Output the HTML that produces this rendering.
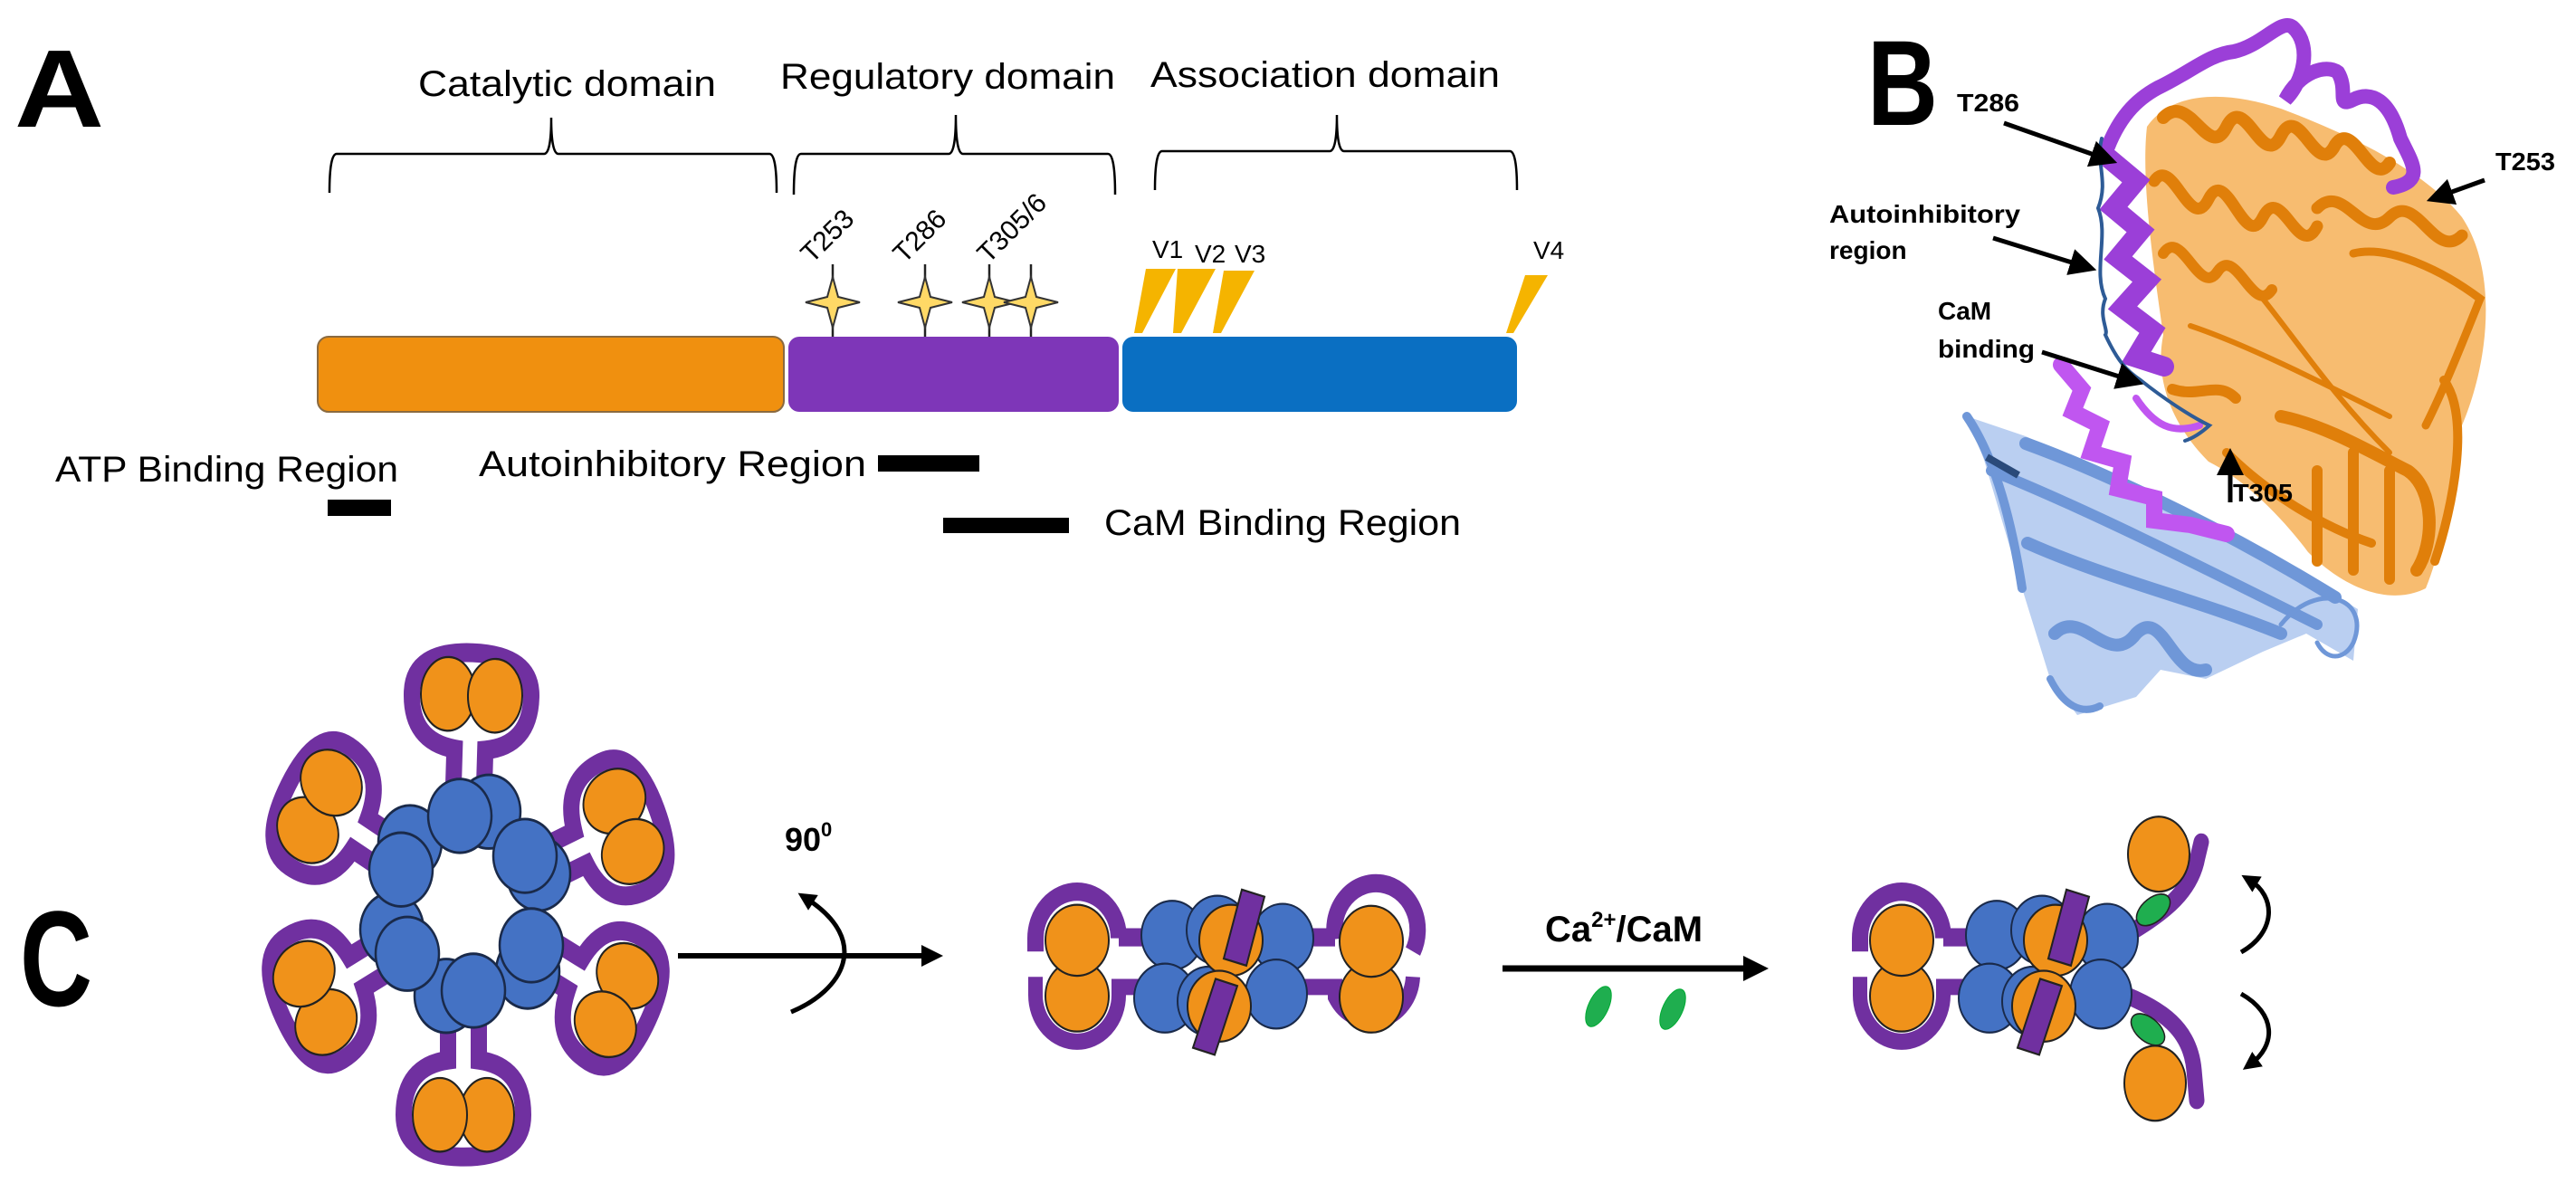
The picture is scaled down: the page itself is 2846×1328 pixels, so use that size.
<!DOCTYPE html>
<html><head><meta charset="utf-8"><style>
html,body{margin:0;padding:0;background:#fff}
svg{display:block}
text{font-family:"Liberation Sans",sans-serif}
</style></head><body>
<svg width="2846" height="1328" viewBox="0 0 2846 1328" xmlns="http://www.w3.org/2000/svg">
<defs>
<marker id="ah" markerWidth="6" markerHeight="6" refX="3" refY="3" orient="auto" markerUnits="strokeWidth"><path d="M0,0 L6,3 L0,6 Z" fill="#000"/></marker>
<marker id="ah2" markerWidth="4" markerHeight="4" refX="2" refY="2" orient="auto" markerUnits="strokeWidth"><path d="M0,0 L4,2 L0,4 Z" fill="#000"/></marker>
<g id="star"><line x1="0" y1="-42" x2="0" y2="38" stroke="#222" stroke-width="2.5"/><path d="M0,-28 L6,-6 L30,0 L6,6 L0,28 L-6,6 L-30,0 L-6,-6 Z" fill="#ffd966" stroke="#333" stroke-width="2"/></g>
<g id="unit">
<path d="M-17,88 L-17,52 Q-66,46 -66,0 Q-66,-40 0,-40 Q66,-40 66,0 Q66,46 17,52 L17,88" fill="none" stroke="#7030a0" stroke-width="18"/>
<ellipse cx="-26" cy="0" rx="30" ry="35" fill="#f0921a" stroke="#222" stroke-width="2"/>
<ellipse cx="26" cy="0" rx="30" ry="35" fill="#f0921a" stroke="#222" stroke-width="2"/>
</g>
<g id="leftC">
<path d="M1144,1053 L1144,1040 A46 46 0 0 1 1236,1040 L1236,1039 L1275,1039" fill="none" stroke="#7030a0" stroke-width="18"/>
<path d="M1144,1078 L1144,1096 A46 46 0 0 0 1236,1096 L1236,1088 L1275,1088" fill="none" stroke="#7030a0" stroke-width="16"/>
<circle cx="1190" cy="1097" r="35" fill="#f0921a" stroke="#222" stroke-width="2"/>
<circle cx="1190" cy="1042" r="35" fill="#f0921a" stroke="#222" stroke-width="2"/>
</g>
<g id="core">
<circle cx="1295" cy="1037" r="34" fill="#4472c4" stroke="#1a2a4a" stroke-width="2"/>
<circle cx="1287" cy="1099" r="34" fill="#4472c4" stroke="#1a2a4a" stroke-width="2"/>
<circle cx="1417" cy="1040" r="34" fill="#4472c4" stroke="#1a2a4a" stroke-width="2"/>
<circle cx="1410" cy="1095" r="34" fill="#4472c4" stroke="#1a2a4a" stroke-width="2"/>
<circle cx="1345" cy="1032" r="34" fill="#4472c4" stroke="#1a2a4a" stroke-width="2"/>
<circle cx="1335" cy="1102" r="34" fill="#4472c4" stroke="#1a2a4a" stroke-width="2"/>
<circle cx="1360" cy="1042" r="35" fill="#f0921a" stroke="#222" stroke-width="2"/>
<circle cx="1347" cy="1107" r="35" fill="#f0921a" stroke="#222" stroke-width="2"/>
<polygon points="1372,992 1397,999 1377,1067 1352,1060" fill="#7030a0" stroke="#222" stroke-width="2"/>
<polygon points="1343,1080 1367,1087 1342,1155 1318,1148" fill="#7030a0" stroke="#222" stroke-width="2"/>
</g>
</defs>

<!-- PANEL A -->
<text x="16" y="140" font-size="122" font-weight="bold" textLength="99" lengthAdjust="spacingAndGlyphs">A</text>
<text x="462" y="106" font-size="40" textLength="329" lengthAdjust="spacingAndGlyphs">Catalytic domain</text>
<text x="862" y="98" font-size="40" textLength="370" lengthAdjust="spacingAndGlyphs">Regulatory domain</text>
<text x="1271" y="96" font-size="40" textLength="386" lengthAdjust="spacingAndGlyphs">Association domain</text>
<g fill="none" stroke="#000" stroke-width="2.5">
<path d="M364,213 Q364,170 372,170 L601,170 Q609,170 609,130 Q609,170 617,170 L850,170 Q858,170 858,213"/>
<path d="M877,215 Q877,170 885,170 L1048,170 Q1056,170 1056,127 Q1056,170 1064,170 L1224,170 Q1232,170 1232,215"/>
<path d="M1276,210 Q1276,167 1284,167 L1469,167 Q1477,167 1477,127 Q1477,167 1485,167 L1668,167 Q1676,167 1676,210"/>
</g>
<rect x="351" y="372" width="515" height="83" rx="12" fill="#f0900f" stroke="#8a6a40" stroke-width="2"/>
<rect x="871" y="372" width="365" height="83" rx="12" fill="#7e36b8"/>
<rect x="1240" y="372" width="436" height="83" rx="12" fill="#0a6fc2"/>
<use href="#star" x="920" y="334"/>
<use href="#star" x="1022" y="334"/>
<use href="#star" x="1093" y="334"/>
<use href="#star" x="1139" y="334"/>
<text font-size="30" transform="translate(897,292) rotate(-45)">T253</text>
<text font-size="30" transform="translate(999,292) rotate(-45)">T286</text>
<text font-size="30" transform="translate(1092,292) rotate(-45)">T305/6</text>
<g fill="#f5b400">
<polygon points="1266,297 1299,297 1262,368 1253,368"/>
<polygon points="1301,297 1343,297 1305,368 1296,368"/>
<polygon points="1352,299 1386,299 1349,368 1340,368"/>
<polygon points="1685,304 1710,304 1672,368 1664,368"/>
</g>
<text x="1273" y="285" font-size="28">V1</text>
<text x="1320" y="290" font-size="28">V2</text>
<text x="1364" y="290" font-size="28">V3</text>
<text x="1694" y="286" font-size="28">V4</text>
<text x="61" y="532" font-size="40" textLength="379" lengthAdjust="spacingAndGlyphs">ATP Binding Region</text>
<rect x="362" y="552" width="70" height="18" fill="#000"/>
<text x="529" y="526" font-size="40" textLength="428" lengthAdjust="spacingAndGlyphs">Autoinhibitory Region</text>
<rect x="970" y="503" width="112" height="18" fill="#000"/>
<rect x="1042" y="572" width="139" height="17" fill="#000"/>
<text x="1220" y="591" font-size="40" textLength="394" lengthAdjust="spacingAndGlyphs">CaM Binding Region</text>

<!-- PANEL B -->
<text x="2063" y="138" font-size="134" font-weight="bold" textLength="78" lengthAdjust="spacingAndGlyphs">B</text>
<path d="M2173,460 L2238,482 L2400,560 L2533,630 L2605,673 L2600,730 L2548,700 L2500,720 L2437,750 L2387,740 L2360,770 L2295,790 L2265,750 L2234,650 L2192,508 Z" fill="#a9c3ee" opacity="0.8"/>
<g fill="none" stroke="#6f97d8" stroke-linecap="round">
<path d="M2173,460 C2200,500 2220,560 2234,650" stroke-width="10"/>
<path d="M2238,490 C2320,520 2450,580 2580,660" stroke-width="14"/>
<path d="M2200,520 C2300,560 2420,620 2560,690" stroke-width="12"/>
<path d="M2240,600 C2330,640 2420,660 2520,700" stroke-width="14"/>
<path d="M2270,700 C2300,670 2330,740 2360,700 C2390,670 2400,750 2437,740" stroke-width="14"/>
<path d="M2265,750 C2280,780 2300,790 2320,780" stroke-width="8"/>
<path d="M2520,690 C2560,640 2620,660 2600,710 C2590,730 2570,730 2560,710" stroke-width="5"/>
</g>
<path d="M2195,505 L2230,525" stroke="#2a4a7a" stroke-width="8"/>
<path d="M2372,140 C2400,100 2460,100 2520,120 C2600,150 2680,190 2720,240 C2760,300 2750,400 2720,470 C2710,540 2700,600 2680,650 C2640,670 2590,650 2550,610 C2520,570 2480,530 2440,510 C2400,470 2380,420 2390,370 C2380,300 2365,200 2372,140 Z" fill="#f4a640" opacity="0.75"/>
<g fill="none" stroke="#e07f0a" stroke-linecap="round">
<path d="M2390,130 C2420,100 2440,180 2460,140 C2480,100 2500,190 2520,150 C2540,110 2560,200 2580,160 C2600,130 2620,210 2640,180" stroke-width="14"/>
<path d="M2380,200 C2400,170 2420,260 2440,220 C2460,180 2480,280 2500,240 C2520,200 2540,290 2560,250" stroke-width="13"/>
<path d="M2390,280 C2410,250 2430,330 2450,300 C2470,270 2490,350 2510,320" stroke-width="12"/>
<path d="M2560,230 C2590,200 2610,270 2640,240 C2670,210 2690,290 2720,260" stroke-width="13"/>
<path d="M2600,280 C2640,270 2700,300 2740,330 C2720,380 2700,430 2680,470" stroke-width="9"/>
<path d="M2420,360 C2480,380 2560,420 2640,460" stroke-width="6"/>
<path d="M2500,330 C2540,380 2580,440 2640,500" stroke-width="6"/>
<path d="M2520,460 C2570,470 2620,500 2660,520 C2690,540 2690,600 2670,630" stroke-width="14"/>
<path d="M2560,520 L2560,620 M2600,500 L2600,630 M2640,520 L2640,640" stroke-width="12"/>
<path d="M2460,500 C2500,540 2560,580 2620,600" stroke-width="10"/>
<path d="M2700,420 C2730,460 2710,560 2690,620" stroke-width="10"/>
<path d="M2400,430 C2430,440 2450,420 2470,440" stroke-width="12"/>
</g>
<g fill="none" stroke-linecap="round">
<path d="M2326,170 C2340,130 2360,110 2384,97 C2420,80 2440,60 2468,57 C2500,50 2520,20 2533,30 C2555,50 2545,90 2525,110 C2540,80 2570,70 2583,80 C2595,100 2580,120 2600,110 C2620,100 2640,110 2652,153 C2665,180 2680,200 2644,207" stroke="#9b3fd8" stroke-width="16"/>
<path d="M2330,175 L2360,200 L2335,230 L2365,255 L2340,285 L2372,310 L2345,340 L2378,365 L2360,395 L2391,405" stroke="#9b3fd8" stroke-width="22"/>
<path d="M2277,403 L2300,430 L2290,455 L2320,470 L2310,500 L2345,510 L2340,540 L2380,550 L2380,575 L2420,580 L2460,590" stroke="#c056f0" stroke-width="18"/>
<path d="M2360,440 C2380,470 2400,480 2430,470" stroke="#c056f0" stroke-width="8"/>
<path d="M2322,153 C2315,180 2330,200 2318,230 C2330,260 2312,300 2326,330 C2318,350 2330,365 2326,370 C2340,400 2350,410 2365,420 C2390,440 2420,460 2441,470 C2430,480 2420,485 2414,487" stroke="#2e5b96" stroke-width="4"/>
</g>
<g font-weight="bold" font-size="28">
<text x="2162" y="123" textLength="69" lengthAdjust="spacingAndGlyphs">T286</text>
<text x="2757" y="188" textLength="66" lengthAdjust="spacingAndGlyphs">T253</text>
<text x="2021" y="246" textLength="211" lengthAdjust="spacingAndGlyphs">Autoinhibitory</text>
<text x="2021" y="286">region</text>
<text x="2141" y="353">CaM</text>
<text x="2141" y="395" textLength="107" lengthAdjust="spacingAndGlyphs">binding</text>
<text x="2467" y="554" textLength="66" lengthAdjust="spacingAndGlyphs">T305</text>
</g>
<g stroke="#000" stroke-width="5" marker-end="url(#ah)">
<line x1="2214" y1="136" x2="2325" y2="175"/>
<line x1="2745" y1="199" x2="2695" y2="217"/>
<line x1="2202" y1="263" x2="2302" y2="294"/>
<line x1="2256" y1="389" x2="2354" y2="420"/>
<line x1="2464" y1="555" x2="2464" y2="510"/>
</g>

<!-- PANEL C -->
<text x="22" y="1111" font-size="150" font-weight="bold" textLength="80" lengthAdjust="spacingAndGlyphs">C</text>
<g transform="translate(0,713) scale(1,1.163) translate(0,-800)">
<use href="#unit" transform="translate(521,847) rotate(2)"/>
<use href="#unit" transform="translate(353,953) rotate(-60)"/>
<use href="#unit" transform="translate(348,1135) rotate(-118)"/>
<use href="#unit" transform="translate(512,1246) rotate(180)"/>
<use href="#unit" transform="translate(681,1137) rotate(118)"/>
<use href="#unit" transform="translate(689,972) rotate(67)"/>
<g fill="#4472c4" stroke="#1a2a4a" stroke-width="2.5">
<circle cx="540" cy="958" r="35"/><circle cx="595" cy="1017" r="35"/><circle cx="583" cy="1110" r="35"/>
<circle cx="493" cy="1133" r="35"/><circle cx="433" cy="1070" r="35"/><circle cx="453" cy="987" r="35"/>
<circle cx="508" cy="962" r="35"/><circle cx="580" cy="1000" r="35"/><circle cx="587" cy="1085" r="35"/>
<circle cx="523" cy="1128" r="35"/><circle cx="450" cy="1093" r="35"/><circle cx="443" cy="1013" r="35"/>
</g>
</g>
<line x1="749" y1="1056" x2="1030" y2="1056" stroke="#000" stroke-width="6" marker-end="url(#ah2)"/>
<path d="M874,1118 C930,1095 965,1040 890,992" fill="none" stroke="#000" stroke-width="5" marker-end="url(#ah2)"/>
<text x="867" y="940" font-size="36" font-weight="bold">90<tspan font-size="22" dy="-16">0</tspan></text>
<g transform="translate(0,1068) scale(1,1.12) translate(0,-1068)">
<use href="#leftC"/>
<path d="M1440,1039 L1475,1039 L1475,1040 A46 46 0 1 1 1561,1053" fill="none" stroke="#7030a0" stroke-width="18"/>
<path d="M1440,1088 L1475,1088 L1475,1098 A46 46 0 0 0 1561,1078" fill="none" stroke="#7030a0" stroke-width="16"/>
<circle cx="1515" cy="1098" r="35" fill="#f0921a" stroke="#222" stroke-width="2"/>
<circle cx="1515" cy="1043" r="35" fill="#f0921a" stroke="#222" stroke-width="2"/>
<use href="#core"/>
<g transform="translate(911,0)"><use href="#leftC"/></g>
<path d="M2340,1042 C2380,1020 2420,1000 2428,960 L2432,945" fill="none" stroke="#7030a0" stroke-width="17" stroke-linecap="round"/>
<path d="M2340,1093 C2390,1110 2420,1130 2424,1170 L2427,1200" fill="none" stroke="#7030a0" stroke-width="17" stroke-linecap="round"/>
<g transform="translate(911,0)"><use href="#core"/></g>
<ellipse cx="2385" cy="957" rx="34" ry="37" fill="#f0921a" stroke="#222" stroke-width="2"/>
<ellipse cx="2381" cy="1183" rx="34" ry="37" fill="#f0921a" stroke="#222" stroke-width="2"/>
<ellipse cx="2379" cy="1012" rx="21" ry="12" transform="rotate(-35 2379 1012)" fill="#1fae4f" stroke="#222" stroke-width="1.5"/>
<ellipse cx="2373" cy="1130" rx="21" ry="12" transform="rotate(35 2373 1130)" fill="#1fae4f" stroke="#222" stroke-width="1.5"/>
</g>
<text x="1707" y="1040" font-size="40" font-weight="bold">Ca<tspan font-size="24" dy="-16">2+</tspan><tspan dy="16">/CaM</tspan></text>
<line x1="1660" y1="1070" x2="1940" y2="1070" stroke="#000" stroke-width="7" marker-end="url(#ah2)"/>
<ellipse cx="1766" cy="1112" rx="24" ry="11" transform="rotate(-65 1766 1112)" fill="#1fae4f" stroke="#0a3" stroke-width="1"/>
<ellipse cx="1848" cy="1115" rx="24" ry="11" transform="rotate(-65 1848 1115)" fill="#1fae4f" stroke="#0a3" stroke-width="1"/>
<path d="M2476,1052 C2515,1030 2515,990 2485,972" fill="none" stroke="#000" stroke-width="5" marker-end="url(#ah2)"/>
<path d="M2476,1098 C2515,1120 2515,1155 2486,1176" fill="none" stroke="#000" stroke-width="5" marker-end="url(#ah2)"/>
</svg>
</body></html>
